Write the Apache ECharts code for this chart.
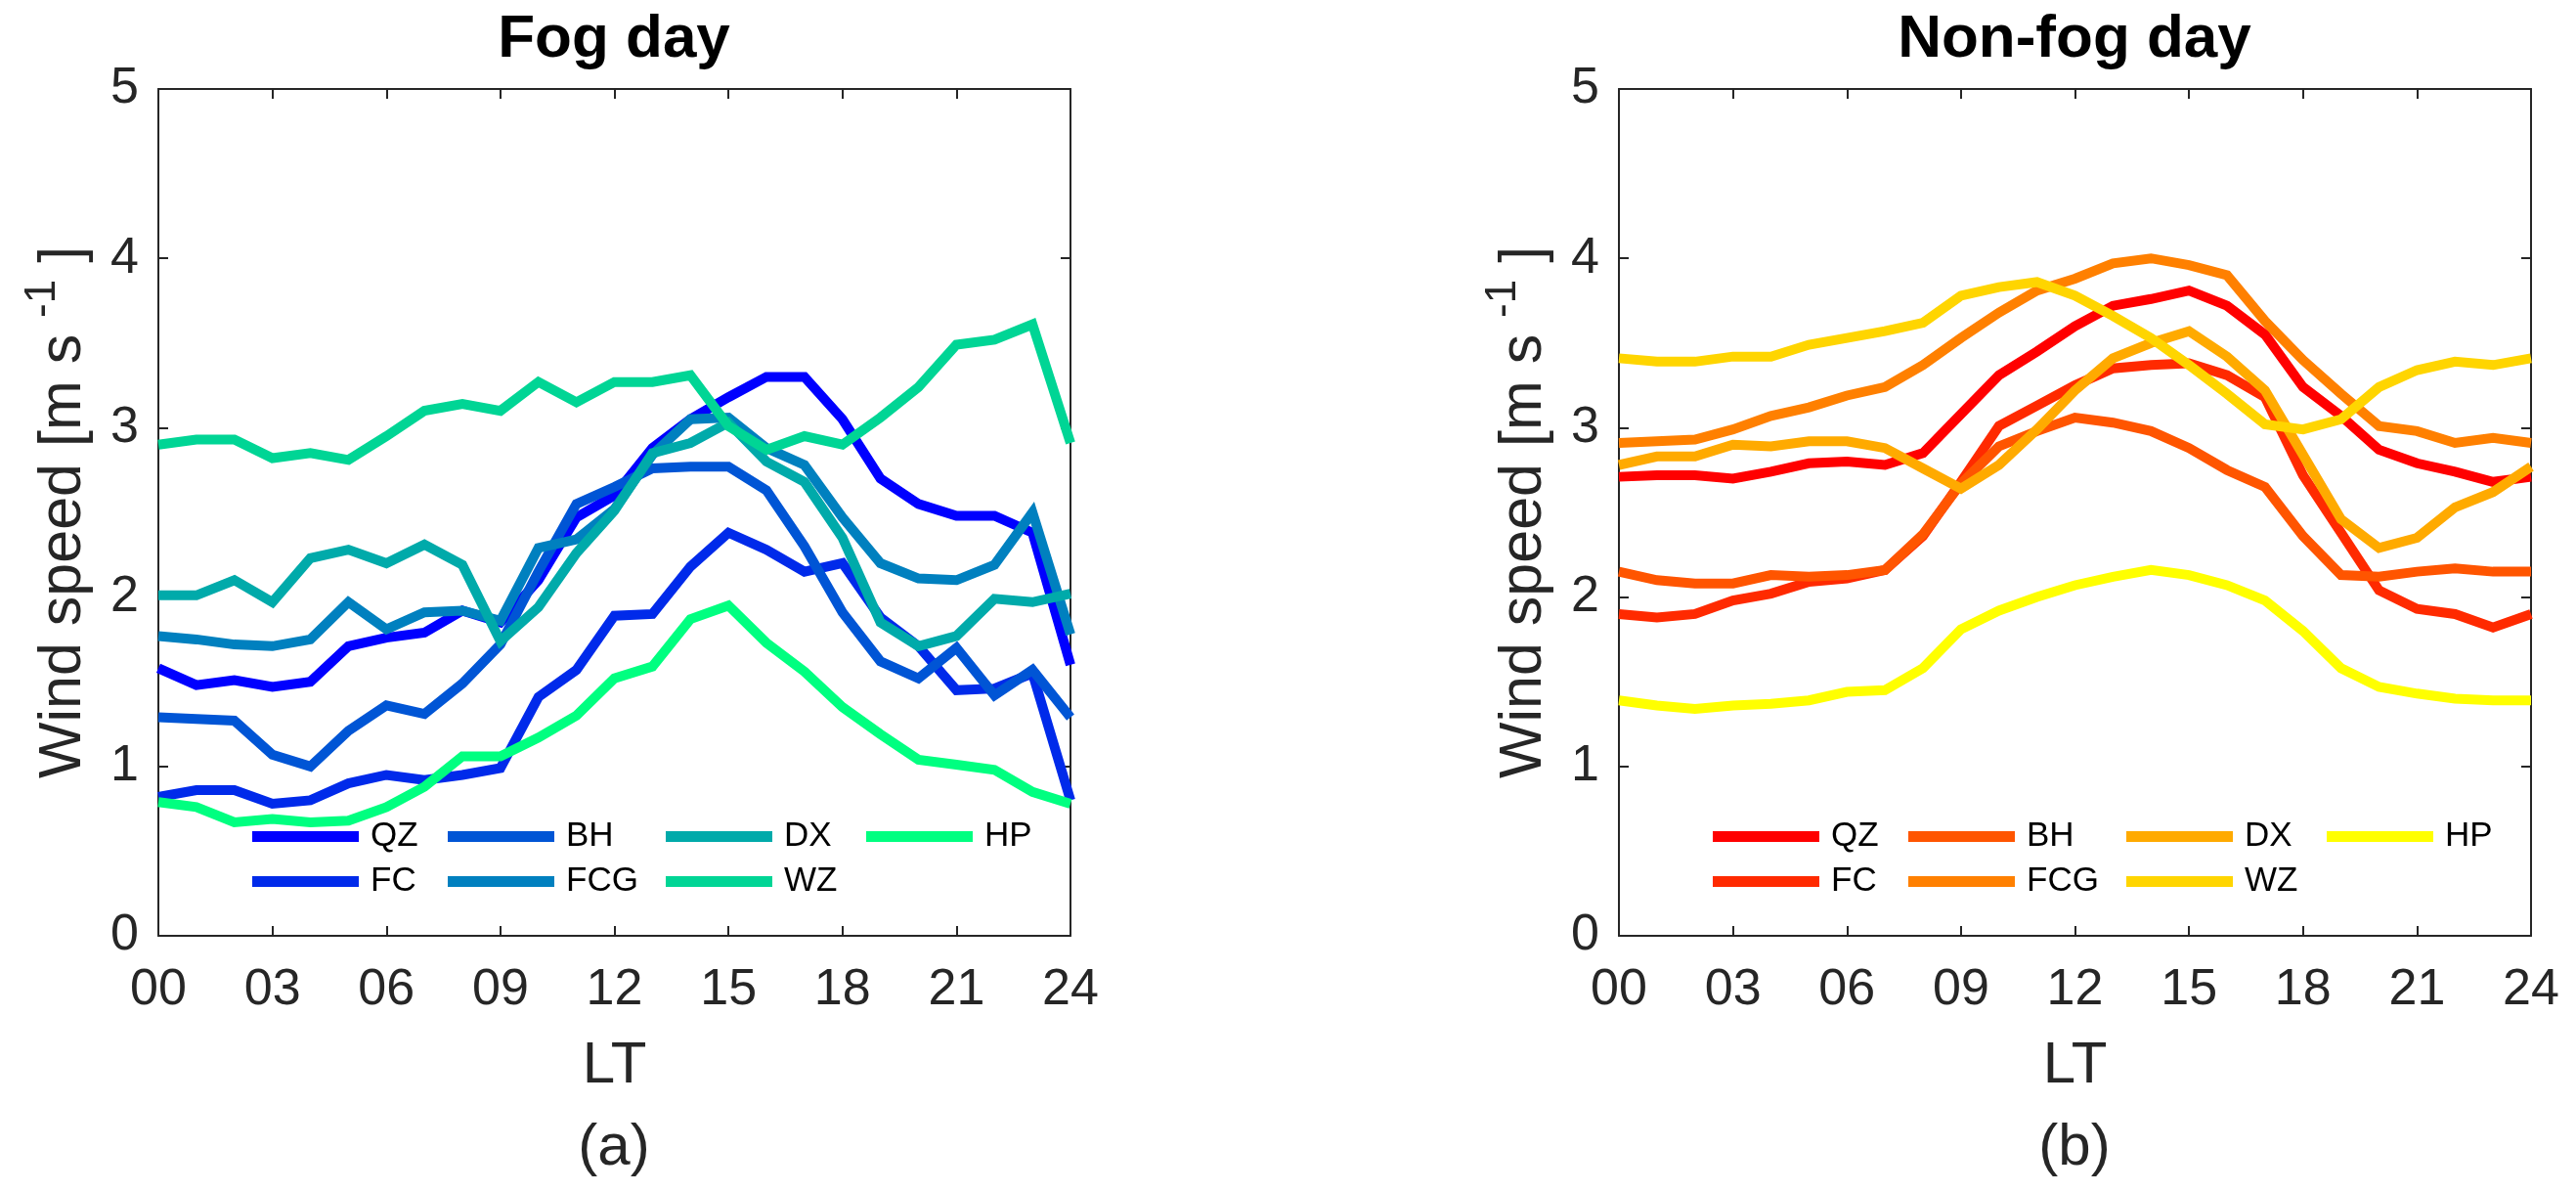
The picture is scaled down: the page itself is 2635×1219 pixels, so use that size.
<!DOCTYPE html>
<html>
<head>
<meta charset="utf-8">
<script src="https://cdn.jsdelivr.net/npm/echarts@6/dist/echarts.min.js"></script>
<style>
  html, body { margin: 0; padding: 0; background: #fff; }
  #chart { width: 2635px; height: 1219px; }
</style>
</head>
<body>
<div id="chart"></div>
<script>
// hours of the day (LT)
const hours = [0, 1, 2, 3, 4, 5, 6, 7, 8, 9, 10, 11, 12, 13, 14, 15, 16, 17, 18, 19, 20, 21, 22, 23, 24];
const stations = ["QZ", "FC", "BH", "FCG", "DX", "WZ", "HP"];

// fog days, wind speed [m/s]
const fogQZ  = [1.58, 1.48, 1.51, 1.47, 1.50, 1.71, 1.76, 1.79, 1.92, 1.85, 2.10, 2.47, 2.60, 2.88, 3.05, 3.18, 3.30, 3.30, 3.05, 2.70, 2.55, 2.48, 2.48, 2.38, 1.60];
const fogFC  = [0.82, 0.86, 0.86, 0.78, 0.80, 0.90, 0.95, 0.92, 0.95, 0.99, 1.41, 1.57, 1.89, 1.90, 2.18, 2.38, 2.28, 2.15, 2.20, 1.88, 1.71, 1.45, 1.46, 1.55, 0.80];
const fogBH  = [1.29, 1.28, 1.27, 1.07, 1.00, 1.21, 1.36, 1.31, 1.49, 1.72, 2.15, 2.55, 2.65, 2.76, 2.77, 2.77, 2.63, 2.30, 1.91, 1.62, 1.52, 1.70, 1.42, 1.57, 1.29];
const fogFCG = [1.77, 1.75, 1.72, 1.71, 1.75, 1.97, 1.81, 1.91, 1.92, 1.86, 2.29, 2.34, 2.52, 2.84, 3.05, 3.06, 2.88, 2.78, 2.47, 2.20, 2.11, 2.10, 2.19, 2.50, 1.78];
const fogDX  = [2.01, 2.01, 2.10, 1.97, 2.23, 2.28, 2.20, 2.31, 2.19, 1.74, 1.94, 2.26, 2.51, 2.85, 2.91, 3.03, 2.80, 2.68, 2.35, 1.85, 1.71, 1.77, 1.99, 1.97, 2.02];
const fogWZ  = [2.90, 2.93, 2.93, 2.82, 2.85, 2.81, 2.95, 3.10, 3.14, 3.10, 3.27, 3.15, 3.27, 3.27, 3.31, 3.01, 2.87, 2.95, 2.90, 3.06, 3.24, 3.49, 3.52, 3.61, 2.91];
const fogHP  = [0.79, 0.76, 0.67, 0.69, 0.67, 0.68, 0.76, 0.88, 1.06, 1.06, 1.17, 1.30, 1.52, 1.59, 1.87, 1.95, 1.73, 1.56, 1.35, 1.19, 1.04, 1.01, 0.98, 0.85, 0.78];

// non-fog days
const nonQZ  = [2.71, 2.72, 2.72, 2.70, 2.74, 2.79, 2.80, 2.78, 2.85, 3.08, 3.31, 3.45, 3.60, 3.72, 3.76, 3.81, 3.72, 3.55, 3.24, 3.07, 2.87, 2.79, 2.74, 2.68, 2.71];
const nonFC  = [1.90, 1.88, 1.90, 1.98, 2.02, 2.09, 2.11, 2.16, 2.36, 2.68, 3.01, 3.13, 3.25, 3.35, 3.37, 3.38, 3.31, 3.18, 2.72, 2.38, 2.04, 1.93, 1.90, 1.82, 1.90];
const nonBH  = [2.15, 2.10, 2.08, 2.08, 2.13, 2.12, 2.13, 2.16, 2.37, 2.67, 2.89, 2.98, 3.06, 3.03, 2.98, 2.88, 2.75, 2.65, 2.36, 2.13, 2.12, 2.15, 2.17, 2.15, 2.15];
const nonFCG = [2.91, 2.92, 2.93, 2.99, 3.07, 3.12, 3.19, 3.24, 3.37, 3.53, 3.68, 3.81, 3.88, 3.97, 4.00, 3.96, 3.90, 3.63, 3.40, 3.20, 3.01, 2.98, 2.91, 2.94, 2.91];
const nonDX  = [2.78, 2.83, 2.83, 2.90, 2.89, 2.92, 2.92, 2.88, 2.76, 2.64, 2.78, 2.99, 3.22, 3.41, 3.50, 3.57, 3.42, 3.22, 2.84, 2.46, 2.29, 2.35, 2.53, 2.62, 2.77];
const nonWZ  = [3.41, 3.39, 3.39, 3.42, 3.42, 3.49, 3.53, 3.57, 3.62, 3.78, 3.83, 3.86, 3.78, 3.66, 3.53, 3.37, 3.20, 3.02, 2.99, 3.05, 3.24, 3.34, 3.39, 3.37, 3.41];
const nonHP  = [1.39, 1.36, 1.34, 1.36, 1.37, 1.39, 1.44, 1.45, 1.58, 1.81, 1.92, 2.00, 2.07, 2.12, 2.16, 2.13, 2.07, 1.98, 1.80, 1.58, 1.47, 1.43, 1.40, 1.39, 1.39];

// matlab winter / autumn colormaps, 7 steps
const fogColors = ["#0000ff", "#002aea", "#0055d5", "#0080bf", "#00aaaa", "#00d595", "#00ff80"];
const nonColors = ["#ff0000", "#ff2a00", "#ff5500", "#ff8000", "#ffaa00", "#ffd500", "#ffff00"];

const fogData = [fogQZ, fogFC, fogBH, fogFCG, fogDX, fogWZ, fogHP];
const nonData = [nonQZ, nonFC, nonBH, nonFCG, nonDX, nonWZ, nonHP];

const FONT = "Liberation Sans, Arial, Helvetica, sans-serif";
const INK = "#262626";
const grids = [
  { left: 162, top: 91, width: 933, height: 866 },
  { left: 1656, top: 91, width: 933, height: 866 }
];
// series names get a panel prefix so the two legends pick their own colours
const prefixes = ["a:", "b:"];

const xAxes = [];
const yAxes = [];
grids.forEach((g, gi) => {
  const common = {
    gridIndex: gi, type: "value", min: 0,
    axisLine: { show: true, onZero: false, lineStyle: { color: INK, width: 2 } },
    axisTick: { show: true, inside: true, length: 10, lineStyle: { color: INK, width: 2 } },
    splitLine: { show: false }
  };
  xAxes.push(Object.assign({}, common, {
    position: "bottom", max: 24, interval: 3,
    axisLabel: {
      color: INK, fontSize: 52, fontFamily: FONT, margin: 30,
      showMinLabel: true, showMaxLabel: true,
      formatter: v => String(v).padStart(2, "0")
    },
    name: "LT", nameLocation: "middle", nameGap: 103,
    nameTextStyle: { color: INK, fontSize: 60, fontFamily: FONT }
  }));
  xAxes.push(Object.assign({}, common, {
    position: "top", max: 24, interval: 3, axisLabel: { show: false }
  }));
  yAxes.push(Object.assign({}, common, {
    position: "left", max: 5, interval: 1,
    axisLabel: { color: INK, fontSize: 52, fontFamily: FONT, margin: 20 },
    name: "{a|Wind speed [m s }{sup|-1}{a| ]}",
    nameLocation: "middle", nameGap: 66,
    nameTextStyle: {
      rich: {
        a: { color: INK, fontSize: 61, fontFamily: FONT, lineHeight: 61, verticalAlign: "bottom" },
        sup: { color: INK, fontSize: 44, fontFamily: FONT, lineHeight: 61, verticalAlign: "bottom", padding: [0, 0, 30, 0] }
      }
    }
  }));
  yAxes.push(Object.assign({}, common, {
    position: "right", max: 5, interval: 1, axisLabel: { show: false }
  }));
});

const series = [];
[fogData, nonData].forEach((set, gi) => {
  const colors = gi === 0 ? fogColors : nonColors;
  set.forEach((vals, i) => {
    series.push({
      name: prefixes[gi] + stations[i],
      type: "line",
      xAxisIndex: gi * 2,
      yAxisIndex: gi * 2,
      showSymbol: false,
      symbol: "none",
      color: colors[i],
      lineStyle: { width: 10, color: colors[i], join: "miter" },
      data: hours.map((h, k) => [h, vals[k]]),
      animation: false
    });
  });
});

// legends: 4 columns x 2 rows per panel
const legendCols = [["QZ", "FC"], ["BH", "FCG"], ["DX", "WZ"], ["HP"]];
const colOffsets = [96, 296, 519, 724];
const legends = [];
grids.forEach((g, gi) => {
  legendCols.forEach((col, ci) => {
    legends.push({
      orient: "vertical",
      left: g.left + colOffsets[ci] - 5,
      top: 833,
      padding: 5,
      itemGap: 11,
      itemWidth: 109,
      itemHeight: 11,
      icon: "rect",
      selectedMode: false,
      textStyle: { color: "#000", fontSize: 35, fontFamily: FONT, lineHeight: 35, padding: [0, 0, 0, 7] },
      data: col.map(n => ({ name: prefixes[gi] + n })),
      formatter: n => n.slice(2)
    });
  });
});

const option = {
  backgroundColor: "#fff",
  animation: false,
  grid: grids,
  xAxis: xAxes,
  yAxis: yAxes,
  series: series,
  legend: legends,
  graphic: [
    { type: "text", x: 628, y: 41, style: { text: "Fog day", fill: "#000", font: "bold 62px " + FONT, align: "center", verticalAlign: "middle" } },
    { type: "text", x: 2122, y: 41, style: { text: "Non-fog day", fill: "#000", font: "bold 62px " + FONT, align: "center", verticalAlign: "middle" } },
    { type: "text", x: 628, y: 1174, style: { text: "(a)", fill: INK, font: "60px " + FONT, align: "center", verticalAlign: "middle" } },
    { type: "text", x: 2122, y: 1174, style: { text: "(b)", fill: INK, font: "60px " + FONT, align: "center", verticalAlign: "middle" } }
  ]
};

const chart = echarts.init(document.getElementById("chart"), null, { renderer: "canvas" });
chart.setOption(option);
</script>
</body>
</html>
